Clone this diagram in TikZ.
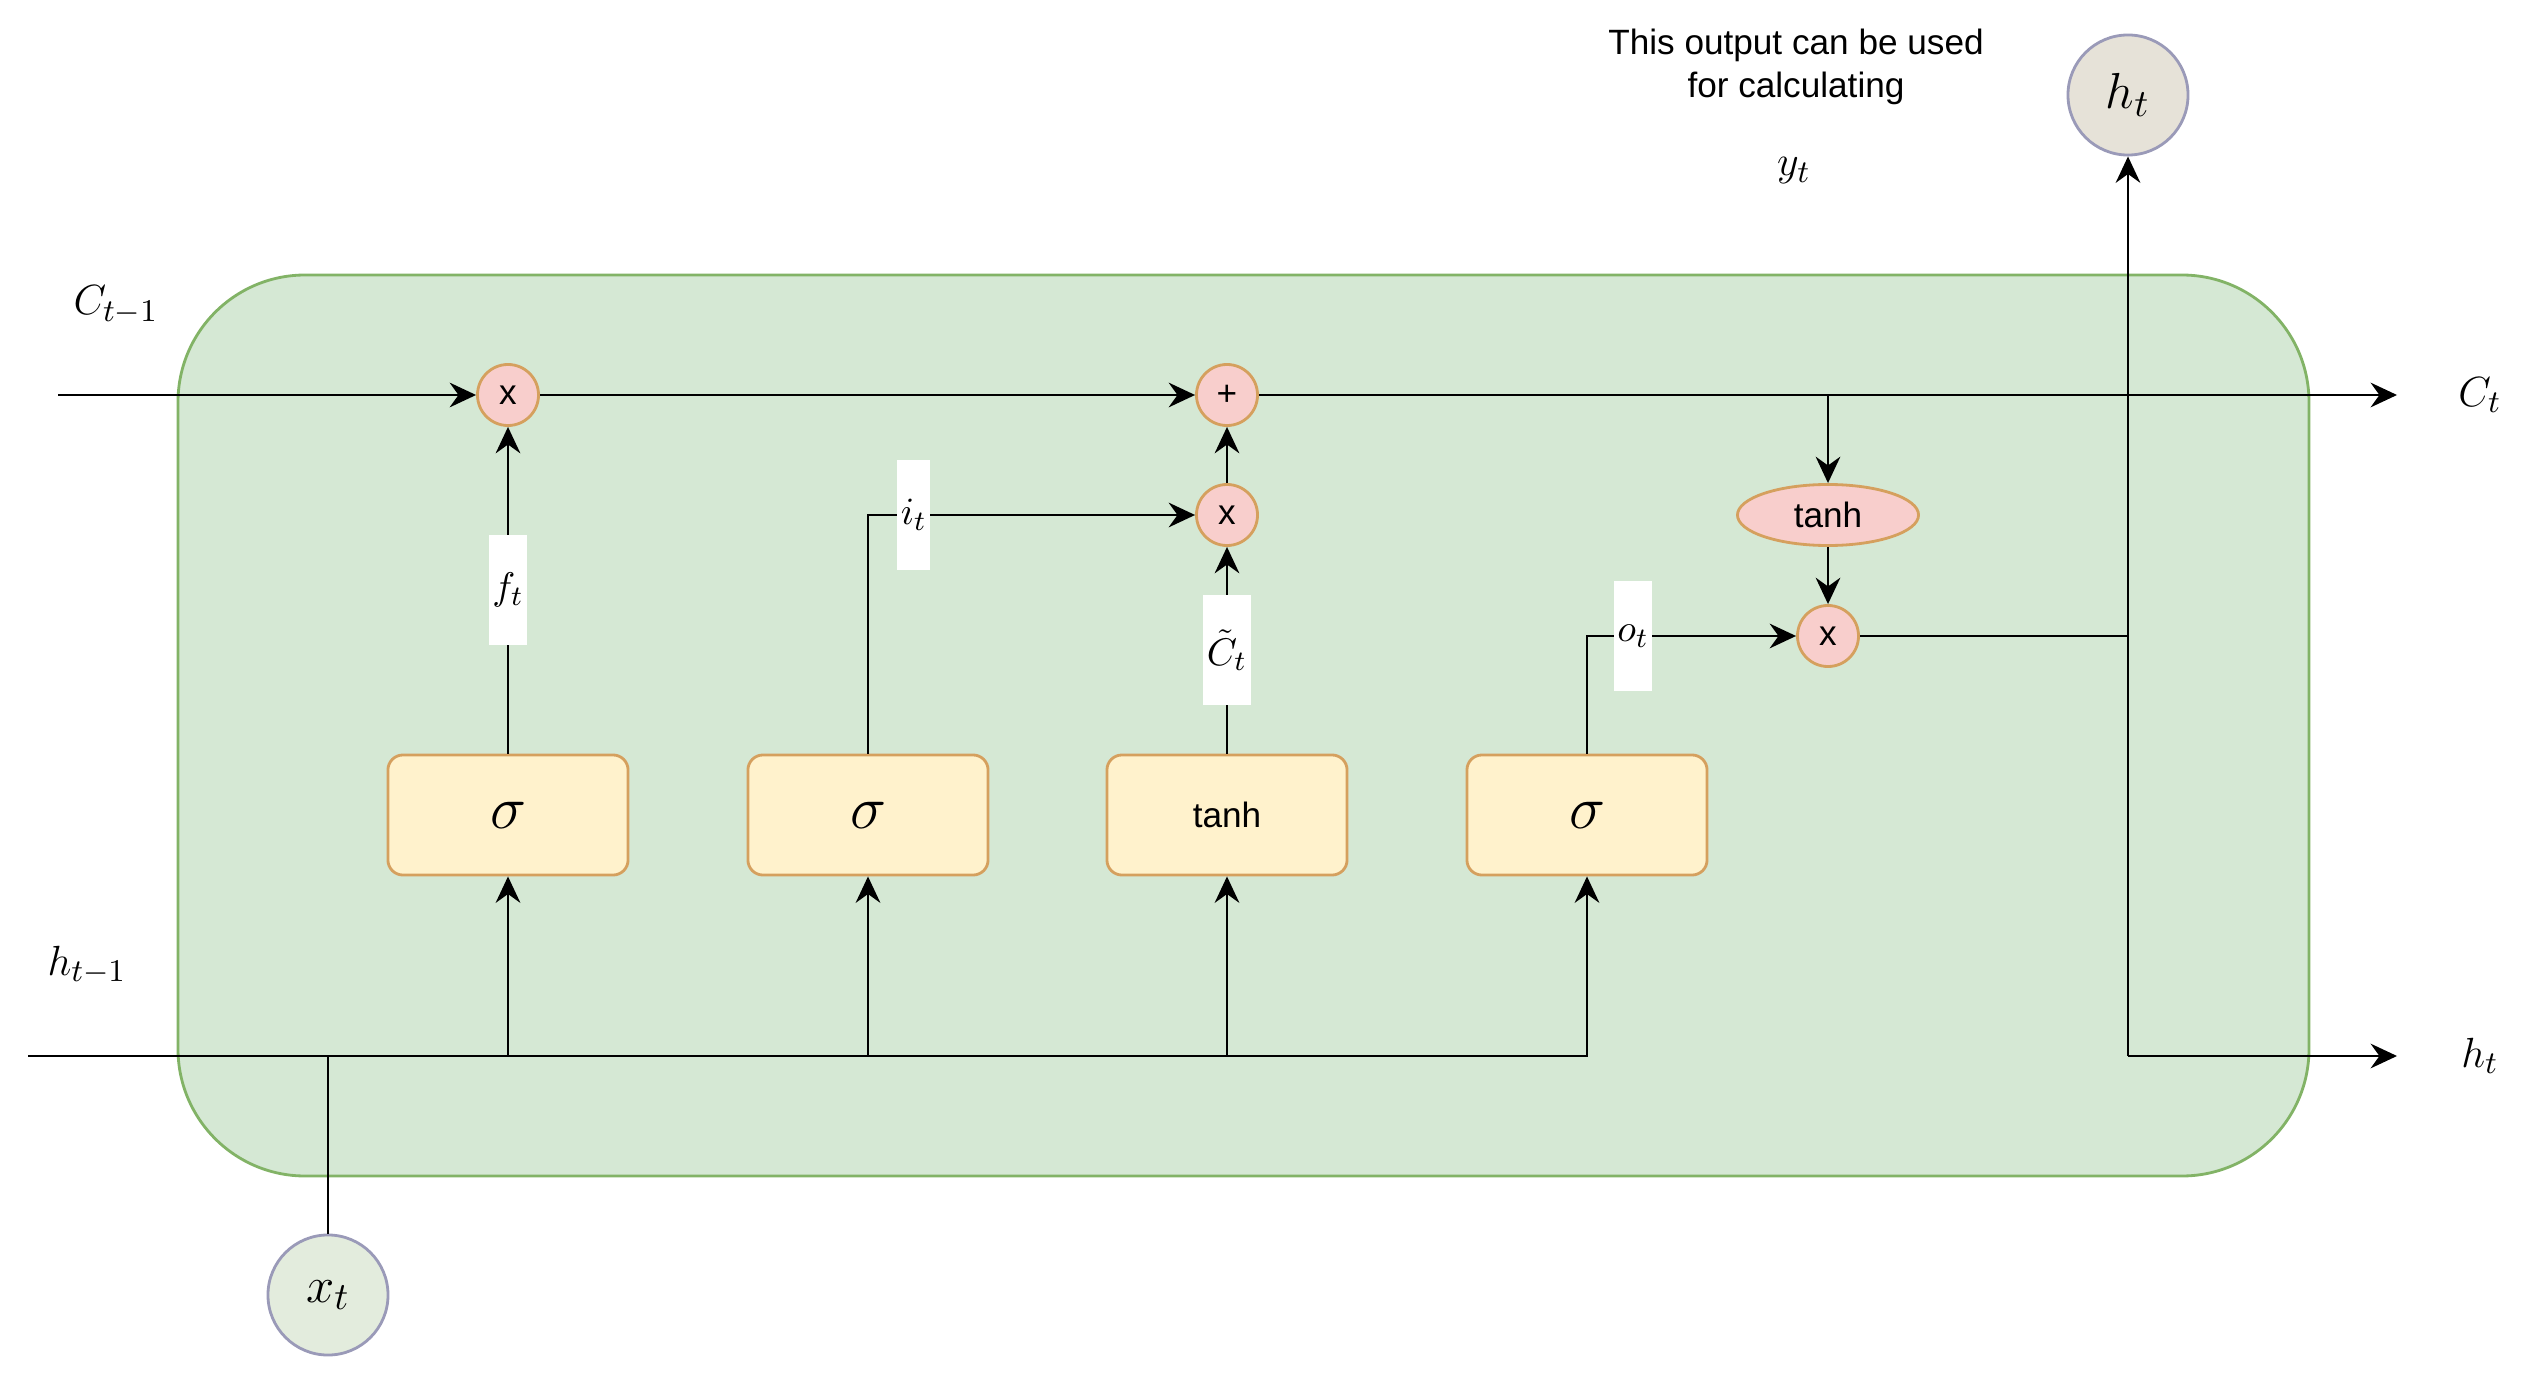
\documentclass[tikz,border=0pt]{standalone}
\usepackage{fontspec}
\setsansfont{Liberation Sans}
\usepackage{tikz}
\usetikzlibrary{
    arrows.meta,
    positioning,
    shapes.geometric
}
\definecolor{cellgreen}{HTML}{D5E8D4}
\definecolor{celledge}{HTML}{82B366}
\definecolor{gatefill}{HTML}{FFF2CC}
\definecolor{gateedge}{HTML}{D5A05E}
\definecolor{opfill}{HTML}{F8CECC}
\definecolor{ioedge}{HTML}{9A9AB8}
\definecolor{xfill}{HTML}{E3ECDD}
\definecolor{hfill}{HTML}{E6E2D8}
\tikzset{
    % Box styles
    cell box/.style={
        draw=celledge,
        fill=cellgreen,
        line width=0.8pt,
        rounded corners=1.27cm
    },
    gate box/.style={
        draw=gateedge,
        fill=gatefill,
        line width=0.8pt,
        rectangle,
        rounded corners=0.15cm,
        minimum width=2.4cm,
        minimum height=1.2cm,
        font=\fontsize{10}{12}\selectfont\sffamily
    },
    sigma box/.style={
        gate box,
        font=\fontsize{16.5}{18}\selectfont
    },
    op node/.style={
        circle,
        draw=gateedge,
        fill=opfill,
        line width=0.8pt,
        minimum size=0.61cm,
        inner sep=0pt,
        font=\fontsize{10}{12}\selectfont\sffamily
    },
    act node/.style={
        ellipse,
        draw=gateedge,
        fill=opfill,
        line width=0.8pt,
        minimum width=1.81cm,
        minimum height=0.61cm,
        inner sep=0pt,
        font=\fontsize{10}{12}\selectfont\sffamily
    },
    io node/.style={
        circle,
        draw=ioedge,
        line width=0.8pt,
        minimum size=1.2cm,
        inner sep=0pt,
        font=\fontsize{15.5}{18}\selectfont
    },
    % Label styles
    gate label/.style={
        fill=white,
        inner xsep=1pt,
        inner ysep=0pt,
        minimum height=1.1cm,
        font=\fontsize{11}{13}\selectfont
    },
    state label/.style={
        font=\fontsize{13}{15}\selectfont
    },
    % Arrow styles
    flow arrow/.style={
        -{Stealth[length=7.5pt,width=7pt,inset=2.5pt]},
        line width=0.8pt
    },
    flow line/.style={
        line width=0.8pt
    }
}

\begin{document}
\begin{tikzpicture}[x=0.01cm, y=-0.01cm]
    \useasboundingbox (0,0) rectangle (2529,1379);
    \draw[cell box] (178,275) rectangle (2309,1176);
    % gates
    \node[sigma box] (fgate) at (508,815) {$\sigma$};
    \node[sigma box] (igate) at (868,815) {$\sigma$};
    \node[gate box] (cgate) at (1227,815) {tanh};
    \node[sigma box] (ogate) at (1587,815) {$\sigma$};
    % pointwise operations
    \node[op node] (fmul) at (508,395) {x};
    \node[op node] (cadd) at (1227,395) {+};
    \node[op node] (imul) at (1227,515) {x};
    \node[act node] (ctanh) at (1828,515) {tanh};
    \node[op node] (omul) at (1828,636) {x};
    % inputs and outputs
    \node[io node, fill=xfill] (xt) at (328,1295) {$x_t$};
    \node[io node, fill=hfill] (ht) at (2128,95) {$h_t$};
    \node[state label] (cprev) at (116,305) {$C_{t-1}$};
    \node[state label] (hprev) at (87,965) {$h_{t-1}$};
    \node[state label, anchor=west] (cnext) at (2446,395) {$C_t$};
    \node[state label, anchor=west] (hnext) at (2449,1056) {$h_t$};
    \node[font=\fontsize{10}{12.2}\selectfont\sffamily, align=center] (note) at (1796,67) {This output can be used\\for calculating};
    \node[state label] (ylab) at (1794,171) {$y_t$};
    \coordinate (cin) at (58,395);
    \coordinate (cout) at (2397,395);
    \coordinate (cjoin) at (1828,395);
    \coordinate (hin) at (28,1056);
    \coordinate (hout) at (2397,1056);
    \coordinate (xjoin) at (328,1056);
    \coordinate (hjoin) at (2128,1056);
    \coordinate (ojoin) at (2128,636);
    % cell state
    \draw[flow arrow] (cin) -- (fmul);
    \draw[flow arrow] (fmul) -- (cadd);
    \draw[flow arrow] (cadd) -- (cout);
    \draw[flow arrow] (cjoin) -- (ctanh);
    \draw[flow arrow] (ctanh) -- (omul);
    \draw[flow line] (omul) -- (ojoin);
    \draw[flow arrow] (hjoin) -- (ht);
    \draw[flow arrow] (hjoin) -- (hout);
    % gate outputs
    \draw[flow arrow] (fgate) -- node[gate label] (flab) {$f_t$} (fmul);
    \draw[flow arrow] (igate) |- node[gate label, pos=0.57] (ilab) {$i_t$} (imul);
    \draw[flow arrow] (cgate) -- node[gate label] (clab) {$\tilde{C}_t$} (imul);
    \draw[flow arrow] (imul) -- (cadd);
    \draw[flow arrow] (ogate) |- node[gate label, pos=0.61] (olab) {$o_t$} (omul);
    % previous hidden state and input
    \draw[flow arrow] (hin) -| (ogate);
    \foreach \g in {fgate, igate, cgate}
        \draw[flow arrow] (\g |- hin) -- (\g);
    \draw[flow line] (xt) -- (xjoin);
\end{tikzpicture}
\end{document}
